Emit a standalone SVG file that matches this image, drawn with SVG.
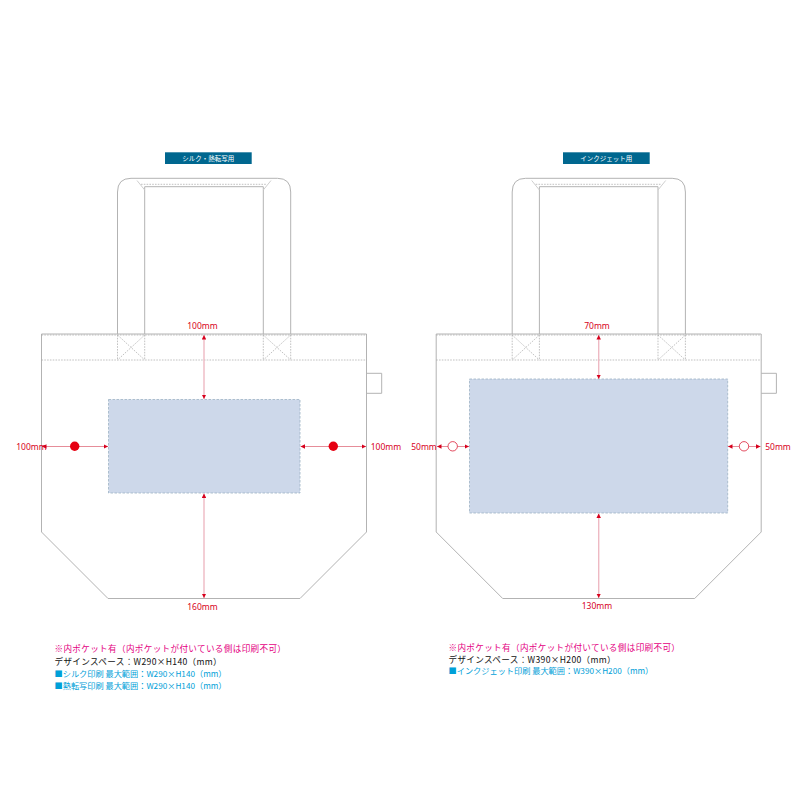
<svg xmlns="http://www.w3.org/2000/svg" width="800" height="800" viewBox="0 0 800 800">
<defs>
<marker id="ah" viewBox="0 0 6 6" refX="6" refY="3" markerWidth="4.5" markerHeight="4.5" markerUnits="userSpaceOnUse" orient="auto-start-reverse"><path d="M0 0L6 3L0 6Z" fill="#d7001c"/></marker>
<g id="bag">
<path class="o" d="M41.5 334H366.5V532L300 598.5H108L41.5 532Z"/>
<path class="o" d="M117.5 334V192Q117.5 178.3 131 178.3H277.5Q290.7 178.3 290.7 192V334"/>
<path class="o" d="M144.7 334V186.7H263.3V334"/>
<path class="f" d="M137 180.5L144.7 190M271 180.5L263.3 190"/>
<path class="d" d="M141 184.3H267M41.5 360H366.5M41.5 335H366.5M117.5 335V360M144.7 335V360M117.5 335L144.7 360M144.7 335L117.5 360M263.3 335V360M290.7 335V360M263.3 335L290.7 360M290.7 335L263.3 360"/>
<path class="o" d="M366.5 373.3H381.7V393.3H366.5"/>
</g>
</defs>
<style>
.o{fill:none;stroke:#b3b3b3;stroke-width:1}
.f{fill:none;stroke:#cfcfcf;stroke-width:1}
.d{fill:none;stroke:#a8a8a8;stroke-width:.7;stroke-dasharray:1.6 1.2}
.p{fill:#cdd8ea;stroke:#9db2c4;stroke-width:.8;stroke-dasharray:2.5 1.5}
.v{fill:none;stroke:#eeb9c3;stroke-width:1.4;marker-start:url(#ah);marker-end:url(#ah)}
.h{fill:none;stroke:#e0707f;stroke-width:.8;marker-start:url(#ah);marker-end:url(#ah)}
text{font-family:"Noto Sans CJK JP","Noto Sans",sans-serif}
.m{font-family:"Noto Sans","Noto Sans CJK JP",sans-serif;font-size:8.5px;fill:#d7001c;text-anchor:middle}
.b{font-size:6.5px;fill:#fff;text-anchor:middle}
.n1{font-size:8.6px;fill:#e4007f;letter-spacing:.33px}
.n2{font-size:8.6px;fill:#111;letter-spacing:.33px}
.n3{font-size:8.2px;fill:#00a0d8;letter-spacing:0}
</style>
<g id="bag-left"><use href="#bag"/></g>
<g id="bag-right"><use href="#bag" x="394.7"/></g>
<g id="area-left"><rect class="p" x="108.5" y="399.5" width="191.5" height="93.5"/></g>
<g id="area-right"><rect class="p" x="469.5" y="379" width="258.2" height="134"/></g>
<g id="label-left"><rect x="165" y="152.3" width="86.7" height="11.7" fill="#00678f"/><text class="b" x="208.3" y="160.7">シルク・熱転写用</text></g>
<g id="label-right"><rect x="563" y="152.3" width="86.7" height="11.7" fill="#00678f"/><text class="b" x="606.3" y="160.7">インクジェット用</text></g>
<g id="connectors">
<path class="v" d="M204 335V399"/>
<path class="v" d="M204 493.5V598"/>
<path class="h" d="M42 446.5H108"/>
<path class="h" d="M300.5 446.5H366"/>
<path class="v" d="M598.7 335V379"/>
<path class="v" d="M598.7 513.5V598"/>
<path class="h" d="M437 446.5H469"/>
<path class="h" d="M728 446.5H760.5"/>
</g>
<g id="dot-left1"><circle cx="74.7" cy="446.3" r="4.7" fill="#e60012"/></g>
<g id="dot-left2"><circle cx="333.3" cy="446.3" r="4.7" fill="#e60012"/></g>
<g id="dot-right1"><circle cx="452.7" cy="446.3" r="4.7" fill="#fff" stroke="#d7001c" stroke-width=".7"/></g>
<g id="dot-right2"><circle cx="744" cy="446.3" r="4.7" fill="#fff" stroke="#d7001c" stroke-width=".7"/></g>
<g id="dim-labels">
<text class="m" x="202.5" y="329">100mm</text>
<text class="m" x="202.5" y="610">160mm</text>
<text class="m" x="31.5" y="449.5">100mm</text>
<text class="m" x="386" y="449.5">100mm</text>
<text class="m" x="597" y="329">70mm</text>
<text class="m" x="597" y="608.5">130mm</text>
<text class="m" x="424" y="449.5">50mm</text>
<text class="m" x="778" y="449.5">50mm</text>
</g>
<g id="notes-left">
<text class="n1" x="54.5" y="652">※内ポケット有（内ポケットが付いている側は印刷不可）</text>
<text class="n2" x="54.5" y="664.5">デザインスペース：W290×H140（mm）</text>
<text class="n3" x="54.5" y="677">■シルク印刷 最大範囲：W290×H140（mm）</text>
<text class="n3" x="54.5" y="688.5">■熱転写印刷 最大範囲：W290×H140（mm）</text>
</g>
<g id="notes-right">
<text class="n1" x="448.5" y="650.5">※内ポケット有（内ポケットが付いている側は印刷不可）</text>
<text class="n2" x="448.5" y="662.5">デザインスペース：W390×H200（mm）</text>
<text class="n3" x="448.5" y="673.5">■インクジェット印刷 最大範囲：W390×H200（mm）</text>
</g>
</svg>
